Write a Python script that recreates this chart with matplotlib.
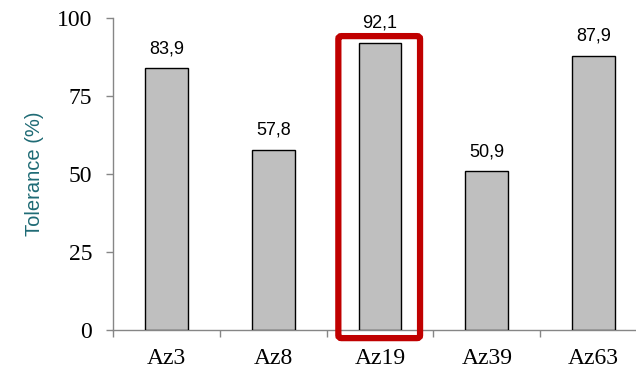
import matplotlib
matplotlib.use("Agg")
import matplotlib.pyplot as plt
from matplotlib.patches import FancyBboxPatch

categories = ["Az3", "Az8", "Az19", "Az39", "Az63"]
values = [83.9, 57.8, 92.1, 50.9, 87.9]
value_labels = ["83,9", "57,8", "92,1", "50,9", "87,9"]
yticks = [0, 25, 50, 75, 100]
highlight = "Az19"

W, H = 636, 371
fig = plt.figure(figsize=(W / 100, H / 100), dpi=100)
left, right, top, bottom = 113, 647, 18, 330
ax = fig.add_axes([left / W, 1 - bottom / H, (right - left) / W, (bottom - top) / H])

x = list(range(len(categories)))
ax.bar(x, values, width=0.4, color="#BFBFBF", edgecolor="black", linewidth=1.0, zorder=3)
for xi, v, lab in zip(x, values, value_labels):
    ax.annotate(lab, (xi, v), xytext=(0, 8), textcoords="offset points",
                ha="center", va="bottom", fontsize=13, family="Liberation Sans", color="black")

ax.set_xlim(-0.5, len(categories) - 0.5)
ax.set_ylim(0, 100)
ax.set_yticks(yticks)
ax.set_yticklabels([str(t) for t in yticks], family="Liberation Serif", fontsize=17)
ax.set_xticks(x)
ax.set_xticklabels(categories, family="Liberation Serif", fontsize=17)
ax.set_xticks([i + 0.5 for i in range(-1, len(categories))], minor=True)

for s in ["top", "right"]:
    ax.spines[s].set_visible(False)
for s in ["left", "bottom"]:
    ax.spines[s].set_color("#868686")
    ax.spines[s].set_linewidth(1.0)

ax.tick_params(axis="y", direction="out", length=5, width=1, color="#868686", pad=10)
ax.tick_params(axis="x", which="major", length=0, pad=13)
ax.tick_params(axis="x", which="minor", direction="out", length=5, width=1, color="#868686")

ax.set_ylabel("Tolerance (%)", family="Liberation Sans", fontsize=14.5, color="#1F6B75", labelpad=9)

hi = categories.index(highlight)
rect = FancyBboxPatch((hi - 0.39, -2.6), 0.765, 96.8,
                      boxstyle="round,pad=0,rounding_size=0.03",
                      mutation_aspect=30,
                      fill=False, edgecolor="#C00000", linewidth=4.5, clip_on=False, zorder=5)
ax.add_patch(rect)

fig.savefig("out.png", dpi=100)
